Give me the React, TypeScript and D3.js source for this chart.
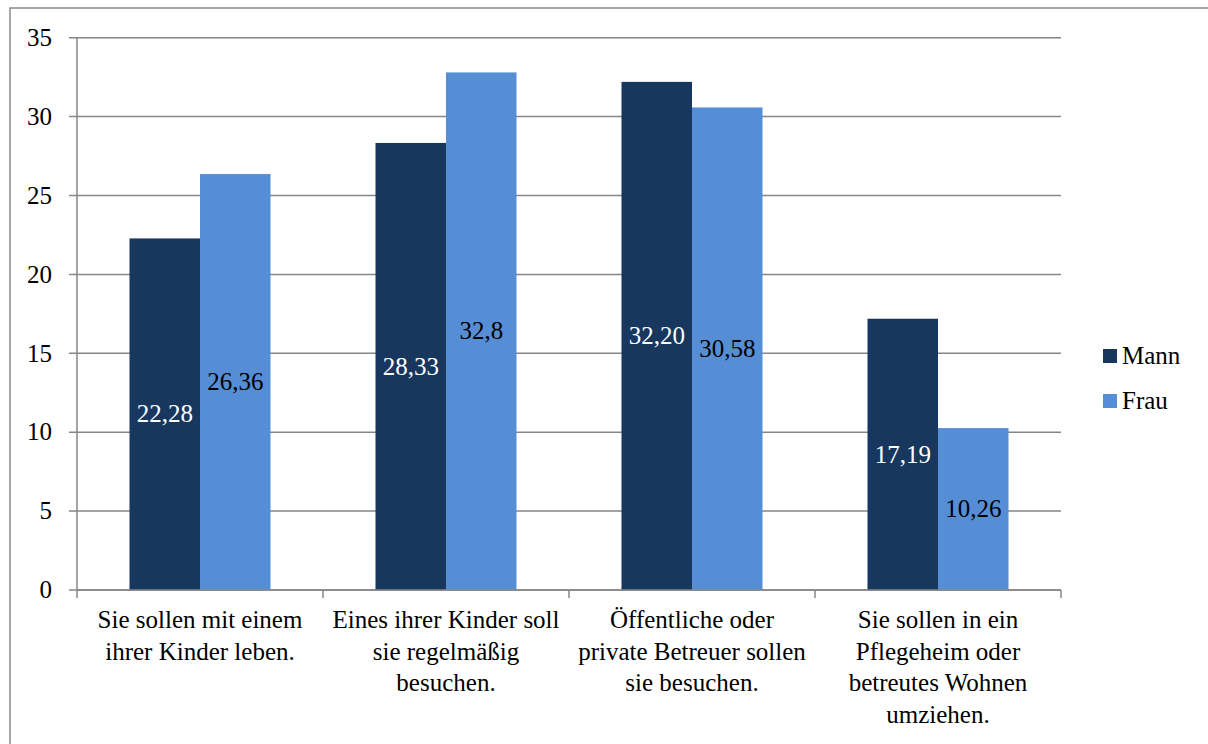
import React from "react";
import * as d3 from "d3";

const categories: string[][] = [
  ["Sie sollen mit einem", "ihrer Kinder leben."],
  ["Eines ihrer Kinder soll", "sie regelmäßig", "besuchen."],
  ["Öffentliche oder", "private Betreuer sollen", "sie besuchen."],
  ["Sie sollen in ein", "Pflegeheim oder", "betreutes Wohnen", "umziehen."],
];
const seriesNames = ["Mann", "Frau"];
const mannValues = [22.28, 28.33, 32.2, 17.19];
const frauValues = [26.36, 32.8, 30.58, 10.26];
const mannLabels = ["22,28", "28,33", "32,20", "17,19"];
const frauLabels = ["26,36", "32,8", "30,58", "10,26"];
const yTicks = [0, 5, 10, 15, 20, 25, 30, 35];

const colors = ["#17375E", "#558ED5"];
const labelColors = ["#FFFFFF", "#000000"];
const FONT = "Liberation Serif";
const FS = 25;
const ts: React.CSSProperties = { fontFamily: FONT, fontSize: FS + "px" };

export default function App() {
  const W = 1208, H = 744;
  const left = 77, right = 1061, top = 37.7, bottom = 590;
  const x = d3.scaleBand<number>().domain(d3.range(categories.length)).range([left, right]).paddingInner(0).paddingOuter(0);
  const y = d3.scaleLinear().domain([0, 35]).range([bottom, top]);
  const groupW = 141;
  const sub = d3.scaleBand<number>().domain([0, 1]).range([0, groupW]);
  const series = [mannValues, frauValues];
  const labels = [mannLabels, frauLabels];
  const grid = "#868686";

  return (
    <svg id="chart" width={W} height={H} style={{ position: "absolute", left: 0, top: 0 }}>
      <style>{`svg#chart text, svg#chart tspan { font-family: "Liberation Serif", serif !important; font-size: ${FS}px !important; }`}</style>
      <rect x={0} y={0} width={W} height={H} fill="#fff" />
      <rect x={10} y={8} width={W + 20} height={H + 20} fill="none" stroke="#8a8a8a" strokeWidth={1.5} />
      {yTicks.map((t) => (
        <g key={t}>
          <line x1={left - 8} x2={right} y1={y(t)} y2={y(t)} stroke={grid} strokeWidth={1.5} />
          <text x={52} y={y(t)} dy="0.33em" textAnchor="end" fontFamily={FONT} fontSize={FS} style={ts} fill="#000">{t}</text>
        </g>
      ))}
      <line x1={left} x2={left} y1={top} y2={bottom} stroke={grid} strokeWidth={1.5} />
      {d3.range(categories.length + 1).map((i) => {
        const xx = left + i * x.bandwidth();
        return <line key={i} x1={xx} x2={xx} y1={bottom} y2={bottom + 8} stroke={grid} strokeWidth={1.5} />;
      })}
      {categories.map((_, ci) => {
        const gx = (x(ci) as number) + (x.bandwidth() - groupW) / 2;
        return series.map((vals, si) => {
          const bx = gx + (sub(si) as number);
          const v = vals[ci];
          return (
            <g key={ci + "-" + si}>
              <rect x={bx} y={y(v)} width={sub.bandwidth()} height={bottom - y(v)} fill={colors[si]} />
              <text x={bx + sub.bandwidth() / 2} y={y(v / 2)} dy="0.33em" textAnchor="middle" fontFamily={FONT} fontSize={FS} style={ts} fill={labelColors[si]}>
                {labels[si][ci]}
              </text>
            </g>
          );
        });
      })}
      <line x1={left} x2={right} y1={bottom} y2={bottom} stroke={grid} strokeWidth={1.5} />
      {categories.map((lines, ci) => (
        <text key={ci} x={(x(ci) as number) + x.bandwidth() / 2} textAnchor="middle" fontFamily={FONT} fontSize={FS} style={ts} fill="#000">
          {lines.map((l, li) => (
            <tspan key={li} x={(x(ci) as number) + x.bandwidth() / 2} y={628 + li * 31.7}>{l}</tspan>
          ))}
        </text>
      ))}
      {seriesNames.map((n, i) => (
        <g key={n}>
          <rect x={1103} y={349 + i * 45} width={14} height={14} fill={colors[i]} />
          <text x={1122} y={356 + i * 45} dy="0.33em" fontFamily={FONT} fontSize={FS} style={ts} fill="#000">{n}</text>
        </g>
      ))}
    </svg>
  );
}
